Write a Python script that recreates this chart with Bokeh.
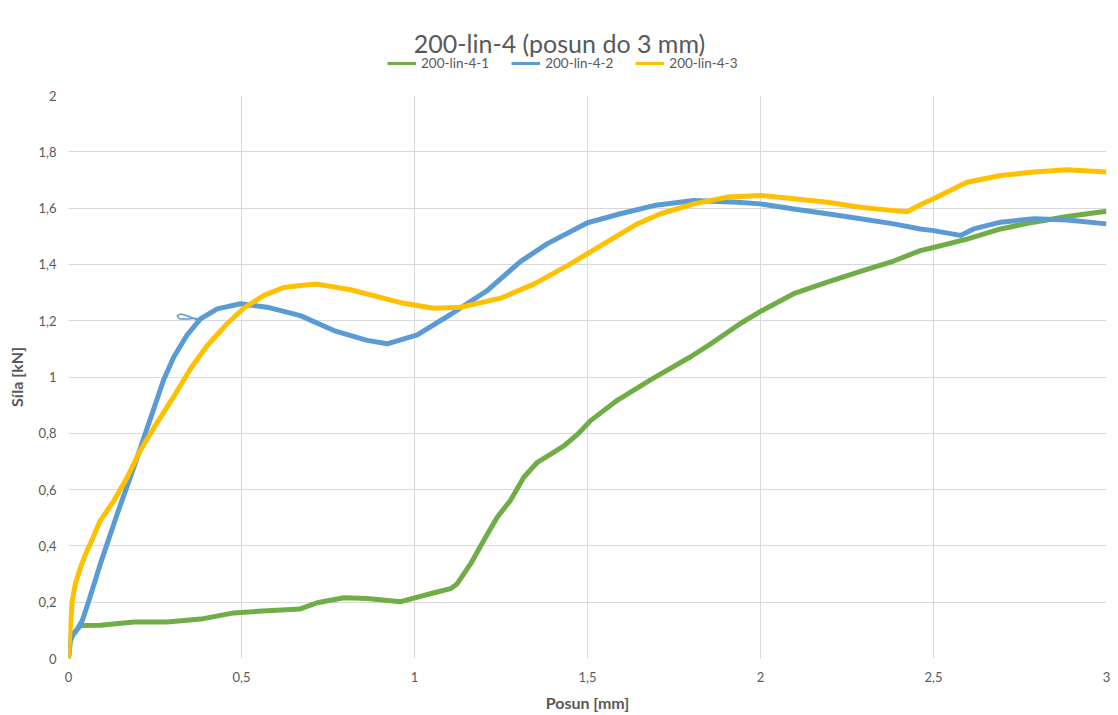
from bokeh.plotting import figure
from bokeh.layouts import column
from bokeh.models import (Legend, LegendItem, Label, FixedTicker,
                          CustomJSTickFormatter, Range1d)
from bokeh.embed import file_html
from bokeh.resources import INLINE

TITLE = "200-lin-4 (posun do 3 mm)"
X_LABEL = "Posun [mm]"
Y_LABEL = "Síla [kN]"
SERIES_NAMES = ["200-lin-4-1", "200-lin-4-2", "200-lin-4-3"]
SERIES_COLORS = ["#70AD47", "#5B9BD5", "#FFC000"]
X_TICKS = [0, 0.5, 1, 1.5, 2, 2.5, 3]
Y_TICKS = [0, 0.2, 0.4, 0.6, 0.8, 1.0, 1.2, 1.4, 1.6, 1.8, 2.0]

# 200-lin-4-1 (green)
green_x = [0.0, 0.005, 0.015, 0.035, 0.092, 0.19, 0.285, 0.382, 0.478, 0.574,
           0.67, 0.719, 0.796, 0.863, 0.96, 1.046, 1.104, 1.123, 1.162, 1.2,
           1.239, 1.277, 1.316, 1.355, 1.395, 1.432, 1.47, 1.509, 1.586, 1.682,
           1.798, 1.855, 1.942, 2.0, 2.096, 2.193, 2.289, 2.385, 2.462, 2.5,
           2.597, 2.694, 2.79, 2.886, 3.0]
green_y = [0.0, 0.06, 0.09, 0.117, 0.118, 0.13, 0.13, 0.14, 0.162, 0.17,
           0.176, 0.198, 0.216, 0.213, 0.202, 0.23, 0.248, 0.265, 0.336, 0.419,
           0.502, 0.561, 0.644, 0.697, 0.727, 0.755, 0.795, 0.845, 0.917, 0.99,
           1.072, 1.117, 1.19, 1.233, 1.296, 1.337, 1.375, 1.412, 1.449, 1.46,
           1.49, 1.526, 1.55, 1.57, 1.589]

# 200-lin-4-2 (blue)
blue_x = [0.0, 0.006, 0.02, 0.04, 0.059, 0.092, 0.141, 0.189, 0.218, 0.247,
          0.275, 0.304, 0.343, 0.382, 0.43, 0.497, 0.574, 0.67, 0.767, 0.863,
          0.921, 1.008, 1.104, 1.21, 1.306, 1.383, 1.5, 1.595, 1.692, 1.807,
          1.933, 2.0, 2.096, 2.193, 2.289, 2.385, 2.462, 2.5, 2.578, 2.616,
          2.694, 2.79, 2.886, 3.0]
blue_y = [0.0, 0.08, 0.093, 0.135, 0.206, 0.336, 0.514, 0.68, 0.785, 0.889,
          0.99, 1.07, 1.15, 1.207, 1.242, 1.26, 1.248, 1.218, 1.165, 1.13,
          1.118, 1.15, 1.222, 1.307, 1.41, 1.473, 1.548, 1.58, 1.609, 1.627,
          1.621, 1.615, 1.597, 1.58, 1.562, 1.544, 1.526, 1.52, 1.503, 1.526,
          1.55, 1.562, 1.558, 1.544]
# small thin loop of the blue record
blue_loop_x = [0.372, 0.35, 0.325, 0.314, 0.322, 0.345, 0.365, 0.376]
blue_loop_y = [1.203, 1.214, 1.224, 1.217, 1.206, 1.206, 1.209, 1.205]

# 200-lin-4-3 (yellow)
yellow_x = [0.0, 0.005, 0.011, 0.02, 0.035, 0.049, 0.064, 0.092, 0.131, 0.17,
            0.208, 0.247, 0.304, 0.353, 0.4, 0.459, 0.507, 0.565, 0.622, 0.67,
            0.719, 0.815, 0.96, 1.056, 1.133, 1.249, 1.345, 1.451, 1.547, 1.644,
            1.711, 1.807, 1.904, 2.0, 2.096, 2.193, 2.289, 2.385, 2.424, 2.462,
            2.5, 2.597, 2.694, 2.79, 2.886, 3.0]
yellow_y = [0.0, 0.11, 0.206, 0.266, 0.324, 0.37, 0.41, 0.49, 0.56, 0.644,
            0.74, 0.82, 0.93, 1.03, 1.11, 1.19, 1.245, 1.29, 1.318, 1.325,
            1.33, 1.31, 1.264, 1.244, 1.248, 1.28, 1.33, 1.402, 1.473, 1.544,
            1.58, 1.615, 1.639, 1.645, 1.633, 1.621, 1.603, 1.591, 1.587, 1.612,
            1.633, 1.692, 1.716, 1.728, 1.736, 1.728]

FONT = "Lato"
TEXT_COLOR = "#595959"
GRID_COLOR = "#D9D9D9"
W = 1118
HEAD_H = 88
FRAME_LEFT = 68
FRAME_RIGHT = 12
FRAME_W = W - FRAME_LEFT - FRAME_RIGHT

# ---------- header (title + legend); its frame is aligned to the chart's ----------
head = figure(width=W, height=HEAD_H, output_backend="svg", toolbar_location=None,
              x_range=Range1d(0, FRAME_W), y_range=Range1d(0, HEAD_H),
              x_axis_type=None, y_axis_type=None,
              min_border_left=FRAME_LEFT, min_border_right=FRAME_RIGHT,
              min_border_top=0, min_border_bottom=0)
head.outline_line_color = None
head.grid.visible = False
head.background_fill_color = "white"
head.border_fill_color = "white"

head.add_layout(Label(x=559 - FRAME_LEFT, y=HEAD_H - 42, text=TITLE,
                      text_align="center", text_baseline="middle",
                      text_font=FONT, text_font_size="25px",
                      text_color=TEXT_COLOR))

swatches = [head.line([float("nan")], [float("nan")], line_color=c, line_width=3)
            for c in SERIES_COLORS]
legend = Legend(items=[LegendItem(label=n, renderers=[s])
                       for n, s in zip(SERIES_NAMES, swatches)],
                location=(387 - FRAME_LEFT, HEAD_H - 71), orientation="horizontal",
                glyph_width=29, glyph_height=16, label_height=16,
                label_standoff=5, spacing=22, padding=0, margin=0,
                label_text_font=FONT, label_text_font_size="13.5px",
                label_text_color=TEXT_COLOR, label_text_baseline="middle",
                border_line_color=None, background_fill_alpha=0)
head.add_layout(legend)

# ---------- main chart ----------
p = figure(width=W, height=715 - HEAD_H, output_backend="svg", toolbar_location=None,
           x_range=Range1d(0, 3), y_range=Range1d(0, 2),
           min_border_left=FRAME_LEFT, min_border_right=FRAME_RIGHT,
           min_border_top=95 - HEAD_H, min_border_bottom=57)
p.outline_line_color = None
p.background_fill_color = "white"
p.border_fill_color = "white"

p.line(green_x, green_y, line_color=SERIES_COLORS[0], line_width=5, line_join="round")
p.line(blue_x, blue_y, line_color=SERIES_COLORS[1], line_width=5, line_join="round")
p.line(blue_loop_x, blue_loop_y, line_color=SERIES_COLORS[1], line_width=1.5)
p.line(yellow_x, yellow_y, line_color=SERIES_COLORS[2], line_width=5, line_join="round")

fmt = "return tick.toString().replace('.', ',');"
for ax, ticks in ((p.xaxis[0], X_TICKS), (p.yaxis[0], Y_TICKS)):
    ax.ticker = FixedTicker(ticks=ticks)
    ax.formatter = CustomJSTickFormatter(code=fmt)
    ax.axis_line_color = None
    ax.major_tick_line_color = None
    ax.minor_tick_line_color = None
    ax.major_tick_out = 0
    ax.major_tick_in = 0
    ax.major_label_text_font = FONT
    ax.major_label_text_font_size = "13px"
    ax.major_label_text_color = TEXT_COLOR
    ax.axis_label_text_font = FONT
    ax.axis_label_text_font_size = "16px"
    ax.axis_label_text_font_style = "bold"
    ax.axis_label_text_color = TEXT_COLOR

p.xaxis.axis_label = X_LABEL
p.yaxis.axis_label = Y_LABEL
p.xaxis.major_label_standoff = 13
p.yaxis.major_label_standoff = 12
p.xaxis.axis_label_standoff = 8
p.yaxis.axis_label_standoff = 9

p.xgrid.ticker = FixedTicker(ticks=X_TICKS)
p.ygrid.ticker = FixedTicker(ticks=Y_TICKS)
p.xgrid.grid_line_color = GRID_COLOR
p.ygrid.grid_line_color = GRID_COLOR

layout = column(head, p, spacing=0)
open("out.html", "w").write(file_html(layout, INLINE))
